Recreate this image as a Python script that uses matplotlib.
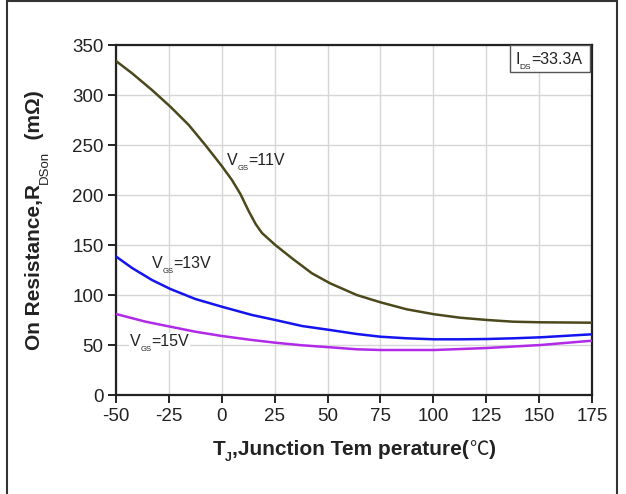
"""Plot on-resistance vs junction temperature"""

import numpy as np
import matplotlib
matplotlib.use("Agg")
import matplotlib.pyplot as plt
from matplotlib.patches import Rectangle

plt.rcParams['font.family'] = ['Liberation Sans', 'DejaVu Sans']
plt.rcParams['axes.unicode_minus'] = False

# Data
temp_11v = [-50, -42.4, -33, -24.3, -15.6, -7.8, 0, 4.8, 8.8, 12.7, 16, 19, 25.3, 33.2, 42.6,
            51.2, 63.8, 75, 87.4, 100.5, 112.6, 125.5, 137.8, 150.7, 175]
rds_11v = [334, 321.7, 305, 288.3, 270, 250, 229, 215, 201, 184, 171, 162, 150, 136.7, 121.7,
           111.7, 100, 92.7, 85.7, 80.7, 77.3, 75, 73.3, 72.7, 72.3]
temp_13v = [-50, -42.4, -33, -24.3, -12.5, 0, 14.3, 25.3, 37.9, 51.2, 63.8, 75, 87.4,
            100.5, 112.6, 125.5, 137.8, 150.7, 175]
rds_13v = [138.5, 127, 115, 106, 96, 88.3, 80, 75, 69, 65, 61, 58.3, 56.7,
           55.7, 55.7, 56, 56.7, 57.7, 60.7]
temp_15v = [-50, -36, -24.3, -12.5, 0, 14.3, 25.3, 38, 51.2, 63.8, 75, 100.5, 125.5, 150.7, 175]
rds_15v = [81, 73.3, 68.3, 63.3, 59, 55, 52.3, 49.7, 47.7, 45.7, 45, 45, 47, 50, 54.3]

series_labels = ["11V", "13V", "15V"]
series_colors = ["#4b481c", "#1414f0", "#b02ae8"]
x_ticks = [-50, -25, 0, 25, 50, 75, 100, 125, 150, 175]
y_ticks = [0, 50, 100, 150, 200, 250, 300, 350]


def rich_text(fig, ax, xy, pieces, rotation=0, coords='data', center=False, **kw):
    """Draw text pieces one after another, each with its own size and drop"""
    renderer = fig.canvas.get_renderer()
    cos_r, sin_r = np.cos(np.radians(rotation)), np.sin(np.radians(rotation))
    texts = []
    adv = 0.0
    for txt, size, dy, props in pieces:
        t = ax.annotate(txt, xy, xycoords=coords, textcoords='offset points',
                        xytext=(0, 0), fontsize=size, rotation=rotation,
                        rotation_mode='anchor', ha='left', va='baseline',
                        annotation_clip=False, **dict(kw, **props))
        bb = t.get_window_extent(renderer)
        w = (bb.height if rotation == 90 else bb.width) * 72.0 / fig.dpi
        texts.append((t, adv, dy))
        adv += w
    shift = adv / 2 if center else 0.0
    for t, a, dy in texts:
        a = a - shift
        t.xyann = (a * cos_r - dy * sin_r, a * sin_r + dy * cos_r)
    return texts


def main():
    """Main"""
    fig = plt.figure(figsize=(6.26, 4.94), dpi=100)
    ax = fig.add_axes([116 / 626, 99 / 494, 476 / 626, 350 / 494])

    curves = [(temp_11v, rds_11v), (temp_13v, rds_13v), (temp_15v, rds_15v)]
    for (t, r), c in zip(curves, series_colors):
        ax.plot(t, r, color=c, lw=1.8, solid_capstyle='round',
                solid_joinstyle='round', zorder=3)

    ax.set_xlim(-50, 175)
    ax.set_ylim(0, 350)
    ax.set_xticks(x_ticks)
    ax.set_yticks(y_ticks)
    ax.tick_params(direction='out', length=6, width=1.4, labelsize=13.5,
                   colors='#222222', pad=3)
    ax.grid(True, color='#d6d6d6', lw=1)
    ax.set_axisbelow(True)
    for sp in ax.spines.values():
        sp.set_linewidth(1.6)
        sp.set_color('#222222')

    # curve labels
    label_pos = [(2.5, 230), (-33, 127), (-43.4, 49)]
    for (x, y), lab in zip(label_pos, series_labels):
        pieces = [("V", 11.5, 0, {}), ("GS", 5.5, -3.5, {}), ("=" + lab, 11.5, 0, {})]
        texts = rich_text(fig, ax, (x, y), pieces, color='#222222')
        if lab == "15V":
            for t, _, _ in texts:
                t.set_bbox(dict(fc='white', ec='none', pad=0.5))

    # current box
    ax.add_patch(Rectangle((0.827, 0.924), 0.168, 0.075, transform=ax.transAxes,
                           fill=True, fc='white', ec='#555555', lw=1, zorder=4))
    txt = rich_text(fig, ax, (0.839, 0.946),
                    [("I", 11.5, 0, {}), ("DS", 6, -3.5, {}), ("=33.3A", 11.5, 0, {})],
                    coords='axes fraction', color='#222222')
    for t, _, _ in txt:
        t.set_zorder(5)

    # axis labels
    rich_text(fig, ax, (0.5, -60 / 350),
              [("T", 15, 0, {'weight': 'bold'}),
               ("J", 9, -4, {'weight': 'bold'}),
               (",Junction Tem perature(", 15, 0, {'weight': 'bold'}),
               ("℃", 14, 0, {'family': ['Noto Sans CJK SC', 'DejaVu Sans'],
                              'weight': 'light'}),
               (")", 15, 0, {'weight': 'bold'})],
              coords='axes fraction', center=True, color='#222222')
    rich_text(fig, ax, (-76 / 476, 0.5),
              [("On Resistance,R", 15, 0, {'weight': 'bold'}),
               ("DSon", 9.5, -5.5, {}),
               ("  (mΩ)", 15, 0, {'weight': 'bold'})],
              rotation=90, coords='axes fraction', center=True, color='#222222')

    # outer frame
    fig.add_artist(Rectangle((6.5 / 626, -0.1), 610 / 626, 1.1 - 1 / 494,
                             transform=fig.transFigure, fill=False,
                             ec='#333333', lw=1.5))

    fig.savefig("out.png", dpi=100)


if __name__ == '__main__':
    main()
